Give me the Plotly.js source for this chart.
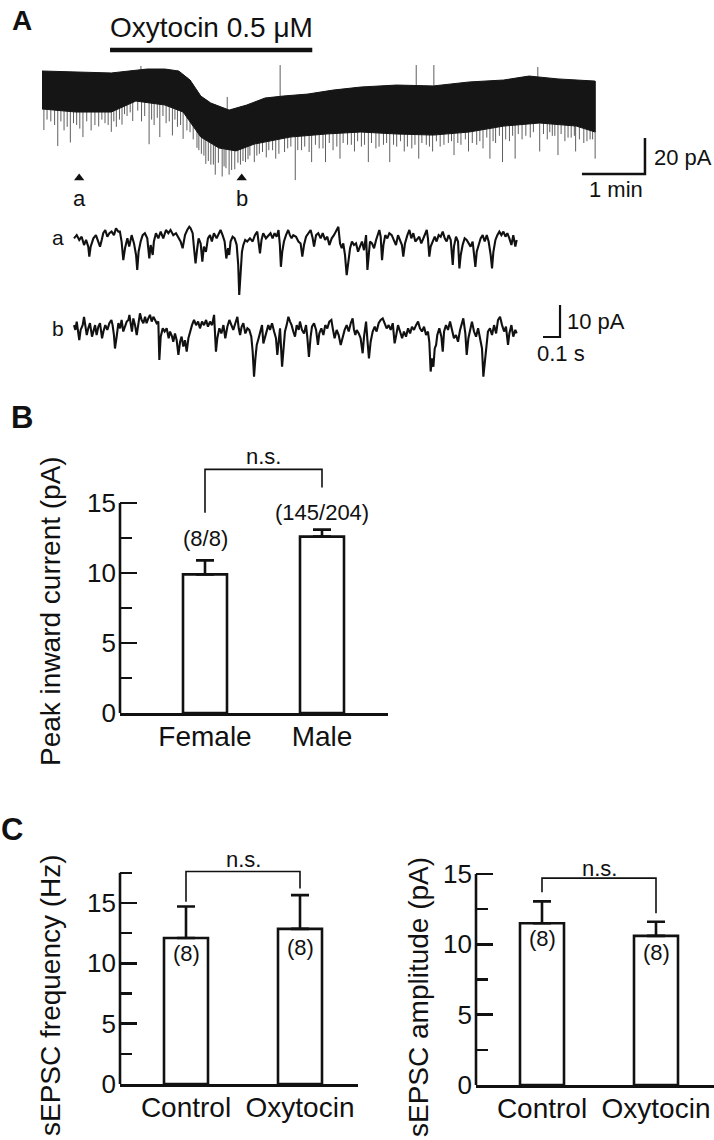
<!DOCTYPE html>
<html><head><meta charset="utf-8">
<script src="https://cdn.plot.ly/plotly-3.0.1.min.js"></script>
<style>html,body{margin:0;padding:0;background:#fff}#plot{width:714px;height:1140px}</style>
</head><body><div id="plot"></div>
<script>
// ===== Panel A: long recording (time in min, current in pA) =====
const envT   = [0,0.54,1.10,1.38,1.67,1.95,2.17,2.35,2.52,2.68,2.97,3.25,3.54,3.83,4.22,4.62,5.06,5.63,6.21,6.78,7.33,7.73,8.19,8.78];
const envTop = [0,-0.6,-1.1,0,1.1,1.1,0,-5.0,-13.9,-17.8,-21.7,-18.9,-15.0,-13.9,-12.8,-10.6,-8.9,-7.8,-8.3,-6.1,-5.0,-2.8,-4.4,-5.6];
const envBotT = [0,0.54,1.10,1.49,1.95,2.24,2.52,2.81,3.08,3.37,3.94,4.51,5.06,5.63,6.21,6.78,7.33,7.90,8.48,8.78];
const envBot  = [-21.1,-22.8,-22.8,-16.7,-18.9,-22.8,-36.7,-42.8,-44.4,-40.6,-36.7,-35.0,-33.9,-35.0,-35.6,-33.9,-30.6,-28.9,-30.6,-33.9];
const eventT    = [0.03,0.25,0.45,0.65,0.90,1.10,1.27,1.44,1.70,1.87,2.07,2.24,2.46,2.60,2.75,2.86,2.97,3.06,3.23,3.37,3.71,4.02,4.28,4.50,4.73,4.96,5.18,5.52,5.75,5.98,6.20,6.54,6.77,7.11,7.31,7.51,7.90,8.19,8.47,8.78];
const eventPeak = [-32.8,-41.7,-39.7,-36.7,-30.8,-33.8,-29.8,-27.8,-40.7,-36.7,-35.8,-37.7,-42.7,-51.6,-57.6,-58.6,-57.6,-54.6,-50.6,-50.6,-48.7,-60.6,-50.6,-50.6,-48.7,-44.7,-50.6,-50.6,-44.7,-48.7,-44.7,-46.7,-44.7,-48.7,-50.6,-48.7,-44.7,-46.7,-44.7,-48.7];
const minorT    = [0.14,0.35,0.55,0.78,1.00,1.18,1.35,1.58,1.78,1.97,2.15,2.35,2.53,2.68,2.92,3.15,3.30,3.45,3.60,3.85,3.95,4.12,4.40,4.62,4.85,5.07,5.30,5.42,5.63,5.87,6.10,6.32,6.45,6.65,6.90,7.00,7.20,7.42,7.62,7.75,8.02,8.10,8.30,8.40,8.60,8.70];
const minorPeak = [-28,-33,-30,-33,-29,-31,-25,-28,-30,-29,-31,-34,-46,-52,-54,-52,-47,-46,-44,-45,-42,-44,-43,-44,-41,-42,-43,-41,-42,-43,-41,-42,-40,-41,-41,-43,-40,-39,-38,-37,-38,-36,-39,-37,-40,-38];
const smallT    = [0.08,0.20,0.30,0.40,0.50,0.60,0.71,0.84,0.95,1.05,1.14,1.23,1.31,1.40,1.52,1.63,1.74,1.83,1.92,2.02,2.11,2.20,2.30,2.40,2.49,2.57,2.64,2.72,2.80,2.89,3.01,3.11,3.19,3.27,3.41,3.50,3.56,3.66,3.76,3.90,4.06,4.17,4.24,4.34,4.46,4.56,4.68,4.78,4.91,5.01,5.12,5.23,5.35,5.47,5.58,5.69,5.80,5.92,6.03,6.15,6.26,6.38,6.50,6.60,6.72,6.83,6.95,7.06,7.16,7.26,7.36,7.47,7.56,7.68,7.80,7.96,8.06,8.14,8.24,8.35,8.45,8.53,8.65,8.74];
const smallPeak = [-27,-30,-28,-31,-29,-32,-28,-30,-27,-30,-28,-27,-24,-23,-22,-25,-27,-26,-25,-28,-27,-30,-33,-38,-44,-47,-50,-52,-51,-53,-55,-51,-50,-49,-47,-45,-48,-44,-46,-43,-44,-42,-45,-41,-43,-40,-42,-40,-41,-39,-41,-40,-42,-40,-41,-39,-42,-41,-40,-42,-39,-41,-39,-40,-38,-40,-39,-37,-39,-36,-38,-36,-35,-36,-34,-35,-34,-36,-35,-37,-36,-38,-39,-38];
const upT    = [1.57,2.94,3.78,5.94,6.22,7.87];
const upPeak = [2.8,-14.4,3.3,3.3,3.3,2.2];
const drugOn = 1.08, drugOff = 4.29, drugLabel = 'Oxytocin 0.5 \u03bcM';
const markT = [0.59, 3.17];
const markLabels = ['a', 'b'];

// ===== Expanded traces a and b (time in ms, current in pA) =====
const aT = [0,16,31,45,59,71,84,90,98,114,129,143,153,163,172,184,196,208,221,235,247,261,270,280,290,300,314,325,339,353,365,372,380,392,404,417,431,443,451,463,470,482,496,510,525,541,555,568,584,600,613,627,639,653,666,678,686,698,706,715,725,733,745,755,764,776,788,800,811,823,839,851,862,874,886,896,906,913,921,933,945,957,966,972,980,988,996,1007,1019,1035,1051,1064,1078,1094,1103,1113,1129,1143,1156,1168,1180,1192,1203,1211,1217,1225,1235,1247,1260,1270,
1280,1290,1306,1320,1333,1343,1353,1365,1378,1392,1404,1412,1424,1437,1451,1463,1477,1490,1502,1516,1529,1545,1555,1565,1575,1584,1594,1604,1614,1624,1635,1647,1659,1671,1682,1694,1706,1718,1726,1733,1741,1753,1765,1777,1788,1796,1804,1812,1820,1831,1843,1855,1869,1882,1894,1906,1918,1929,1937,1947,1961,1973,1984,1996,2008,2020,2031,2043,2055,2067,2075,2082,2090,2098,2110,2122,2133,2145,2157,2169,2181,2192,2204,2216,2228,2235,2247,2259,2267,2275,2286,2298,2310,2322,2333,2345,2353,2361,2369,2381,2392,2404,2416,2428,2439,2451,2459,2467,2479,2490,2502,2514,2526,2538,2549,2561,2573,2584,2596,2604];
const aI = [-0.1,0.9,-0.6,0.4,-2.2,-0.6,-2.7,-5.8,-2.7,-0.1,0.9,-1.1,-2.7,-0.6,1.5,2.5,0.4,1.5,2.0,0.9,3.0,2.0,2.0,-1.1,-6.9,-3.2,-0.1,-2.7,0.9,-1.7,-5.3,-10.0,-4.3,-1.1,0.9,1.5,-0.1,-6.4,-2.2,-5.3,-1.1,1.5,-0.1,2.0,-0.1,2.5,1.5,2.5,0.9,1.5,0.4,-1.1,-3.2,0.9,2.5,3.5,3.0,1.5,-3.2,-7.9,-3.2,-0.1,-1.7,-7.4,-2.7,-4.3,-0.1,0.9,-1.1,1.5,-0.1,1.5,2.5,0.9,-1.1,-6.4,-3.2,-5.3,-1.1,0.4,-0.1,-2.2,-8.4,-17.8,-10.5,-4.3,-2.2,-0.6,-1.1,-0.1,-1.1,0.9,2.0,-4.8,-0.6,1.5,-0.1,0.9,1.5,-0.1,1.5,0.4,2.5,-2.2,-9.0,-4.3,-1.1,0.9,2.5,0.9,
-0.1,0.9,0.4,-1.1,-1.7,-5.8,-2.2,0.4,1.5,2.5,-0.1,-2.7,0.9,1.5,-0.1,1.5,-0.6,0.4,-2.2,-0.1,0.9,2.5,3.5,-1.7,-3.2,-1.7,-5.3,-11.6,-6.4,-3.2,-1.1,-2.2,-1.7,-4.3,-2.7,-1.1,-3.8,0.9,-10.0,-4.3,-1.1,-1.7,-3.2,-0.6,1.5,2.5,0.4,-6.9,-2.2,0.9,-0.1,1.5,0.9,-0.6,-2.2,0.9,-1.1,-2.2,-5.8,-1.7,0.9,2.5,-0.1,1.5,-1.1,-0.1,0.4,-1.7,-0.1,1.5,2.5,-0.1,-5.8,-2.7,-1.1,0.4,-1.1,0.9,0.4,2.0,-0.1,-1.1,0.9,-0.6,-8.4,-2.7,0.4,-1.1,-9.5,-5.3,-2.2,-0.1,-0.6,-1.7,-2.7,-1.1,-4.3,-9.0,-4.3,-1.7,-0.1,0.9,-1.1,0.9,-1.1,-5.3,-9.5,-4.3,-0.6,0.9,2.0,0.9,2.0,0.4,1.5,-0.1,-2.2,0.9,-2.7,-0.6];
const bT = [0,8,16,25,31,39,51,59,67,75,84,94,106,114,124,133,143,153,165,173,184,196,208,220,227,235,241,251,261,271,280,290,300,310,320,326,333,341,349,359,369,378,388,398,408,418,427,437,447,457,467,477,486,496,502,510,522,533,545,557,565,577,584,594,604,614,624,633,643,653,663,673,682,694,706,718,730,741,753,765,777,788,800,812,824,831,835,843,855,867,879,890,902,914,926,937,949,961,969,977,986,996,1008,1020,1031,1043,1051,1059,1067,1075,1086,1098,1106,1114,1124,1133,1143,1153,1165,1177,1188,1196,1204,1212,1224,1232,1241,1251,1261,1271,
1280,1290,1300,1310,1322,1329,1341,1353,1365,1373,1382,1392,1400,1412,1424,1435,1443,1455,1467,1478,1490,1502,1514,1522,1533,1545,1557,1569,1580,1592,1604,1616,1628,1639,1647,1655,1663,1675,1686,1698,1706,1718,1726,1735,1745,1757,1769,1780,1792,1804,1816,1828,1839,1851,1863,1875,1886,1894,1906,1918,1930,1941,1953,1965,1977,1988,2000,2012,2024,2035,2047,2059,2071,2082,2090,2098,2106,2114,2122,2130,2137,2149,2161,2169,2177,2188,2200,2212,2224,2235,2247,2259,2271,2282,2290,2302,2310,2320,2330,2341,2353,2365,2377,2388,2400,2408,2416,2424,2435,2447,2459,2471,2483,2494,2506,2518,2530,2541,2553,2561,2573,2584,2596,2604];
const bI = [0.9,-0.6,2.0,-1.1,-3.8,-0.6,0.9,3.5,0.4,-2.2,-0.1,1.5,-2.7,-0.6,0.9,-2.2,0.4,1.5,-3.2,-1.1,0.9,-0.6,1.5,2.5,0.9,-2.2,-6.4,-2.7,1.5,-0.1,2.5,-1.1,0.4,2.0,2.5,4.1,1.5,-1.1,3.0,0.9,-2.2,2.0,4.6,2.5,1.5,3.5,1.5,3.0,4.1,2.0,3.5,2.5,1.5,2.0,-10.0,-2.7,-0.1,-1.1,-0.1,-3.2,-1.1,-2.7,-4.3,-1.7,-3.8,-8.4,-4.3,-2.7,-5.8,-3.8,-7.4,-3.2,-1.1,0.9,2.5,0.9,2.0,-0.1,2.0,0.9,2.5,0.4,2.0,0.9,4.1,-2.2,-7.4,-3.2,-0.1,-1.7,0.9,-3.2,0.4,2.5,0.9,-0.6,1.5,3.5,-0.1,-2.2,0.4,1.5,-1.7,-0.1,-0.6,-2.7,-7.4,-15.2,-9.5,-5.3,-3.2,-0.1,0.9,-4.8,-2.7,-1.1,0.9,-0.6,1.5,-1.1,-3.2,-8.4,-3.2,-0.1,-12.1,-5.3,-1.1,0.9,3.5,2.0,
0.9,-1.1,-2.7,0.9,-0.6,2.0,-0.6,-1.7,0.9,-3.2,-9.0,-2.7,0.4,1.5,-0.6,-5.3,-1.7,-0.1,-2.2,0.9,-0.1,2.0,2.5,-0.1,-3.2,-0.6,-2.2,-5.3,-2.7,-0.6,0.9,-1.1,1.5,3.0,-0.6,-2.2,-0.6,-1.7,-3.2,-7.9,-2.7,2.0,-3.8,-9.5,-4.3,-1.1,0.4,-1.1,1.5,2.5,3.0,1.5,-0.1,0.9,-0.6,1.5,-4.8,-2.7,0.9,-1.1,-3.2,-1.1,-2.7,-0.1,-1.7,0.4,-0.6,0.9,2.0,-0.1,-1.1,0.4,-2.2,-1.1,-4.3,-13.6,-9.5,-12.1,-6.4,-5.3,-2.2,-0.1,-2.7,-7.4,-1.1,0.9,-0.6,2.0,-1.1,-3.2,-2.2,-4.3,-0.6,2.0,3.0,-1.7,-8.4,-3.2,-0.1,2.0,-1.1,-2.7,-0.1,-3.2,-6.4,-15.2,-10.5,-5.3,-1.1,-0.1,-2.2,0.9,-1.7,2.5,3.5,0.9,-1.1,0.4,-5.3,-1.7,0.9,-2.7,-0.6,-1.7];

// ===== Panel B =====
const sexCats  = ['Female', 'Male'];
const peakMean = [9.9, 12.6];
const peakSem  = [1.0, 0.5];
const peakN    = ['(8/8)', '(145/204)'];
const peakNy   = [12.5, 14.3];

// ===== Panel C =====
const condCats = ['Control', 'Oxytocin'];
const freqMean = [12.1, 12.85];
const freqSem  = [2.6, 2.8];
const ampMean  = [11.5, 10.6];
const ampSem   = [1.55, 1.0];
const cN       = ['(8)', '(8)'];

// ---------- helpers ----------
const W = 714, H = 1140;
const K = '#111';
const FONT = 'Liberation Sans, Arial, Helvetica, sans-serif';
function xAx(p0, p1, refPx, refVal, ppu, extra) {
  return Object.assign({domain: [p0 / W, p1 / W], range: [refVal + (p0 - refPx) / ppu, refVal + (p1 - refPx) / ppu],
    showgrid: false, zeroline: false, fixedrange: true}, extra || {});
}
function yAx(pTop, pBot, refPy, refVal, ppu, extra) {
  return Object.assign({domain: [1 - pBot / H, 1 - pTop / H], range: [refVal - (pBot - refPy) / ppu, refVal + (refPy - pTop) / ppu],
    showgrid: false, zeroline: false, fixedrange: true}, extra || {});
}
function interp(xs, ys, x) {
  if (x <= xs[0]) return ys[0];
  for (let i = 1; i < xs.length; i++) if (x <= xs[i]) {
    const f = (x - xs[i - 1]) / (xs[i] - xs[i - 1]); return ys[i - 1] + f * (ys[i] - ys[i - 1]);
  }
  return ys[ys.length - 1];
}
function spikes(ts, ps) {
  const x = [], y = [];
  ts.forEach((t, i) => { x.push(t, t, null); y.push(interp(envT, envTop, t), ps[i], null); });
  return {x, y};
}

const traces = [];
// Panel A spikes (under band)
const spS = spikes(smallT, smallPeak), sp2 = spikes(minorT, minorPeak), sp1 = spikes(eventT, eventPeak), sp3 = spikes(upT, upPeak);
[spS, sp2, sp1, sp3].forEach(s => traces.push({type: 'scatter', mode: 'lines', x: s.x, y: s.y, xaxis: 'x', yaxis: 'y',
  line: {color: '#5f5f5f', width: 1}, hoverinfo: 'skip'}));
// band
traces.push({type: 'scatter', mode: 'lines', xaxis: 'x', yaxis: 'y',
  x: envT.concat(envBotT.slice().reverse()), y: envTop.concat(envBot.slice().reverse()),
  fill: 'toself', fillcolor: '#151515', line: {color: '#151515', width: 1}, hoverinfo: 'skip'});
// drug bar
traces.push({type: 'scatter', mode: 'lines', xaxis: 'x', yaxis: 'y', x: [drugOn, drugOff], y: [11.7, 11.7],
  line: {color: K, width: 4.5}, hoverinfo: 'skip'});
// markers a, b
traces.push({type: 'scatter', mode: 'markers', xaxis: 'x', yaxis: 'y', x: markT, y: markT.map(() => -59.4),
  marker: {symbol: 'triangle-up', size: 9, color: K}, hoverinfo: 'skip'});
// scale bar 1 min / 20 pA
traces.push({type: 'scatter', mode: 'lines', xaxis: 'x', yaxis: 'y', x: [8.571, 9.571, 9.571], y: [-57.2, -57.2, -37.2],
  line: {color: K, width: 2.5}, hoverinfo: 'skip'});
// traces a & b
traces.push({type: 'scatter', mode: 'lines', xaxis: 'x2', yaxis: 'y2', x: aT, y: aI, line: {color: K, width: 2.1}, hoverinfo: 'skip'});
traces.push({type: 'scatter', mode: 'lines', xaxis: 'x2', yaxis: 'y3', x: bT, y: bI, line: {color: K, width: 2.1}, hoverinfo: 'skip'});
// scale bar 0.1 s / 10 pA
traces.push({type: 'scatter', mode: 'lines', xaxis: 'x2', yaxis: 'y3', x: [2759, 2859, 2859], y: [-2.81, -2.81, 7.19],
  line: {color: K, width: 2.2}, hoverinfo: 'skip'});

// Bar panels
function barPanel(xa, ya, means, sems, bw) {
  traces.push({type: 'bar', xaxis: xa, yaxis: ya, x: [0, 1], y: means, width: bw,
    marker: {color: '#fff', line: {color: K, width: 2.6}},
    error_y: {type: 'data', array: sems, arrayminus: sems.map(() => 0), symmetric: false, color: K, thickness: 2.6, width: 9},
    hoverinfo: 'skip'});
}
barPanel('x4', 'y4', peakMean, peakSem, 0.376);
barPanel('x5', 'y5', freqMean, freqSem, 0.386);
barPanel('x6', 'y6', ampMean, ampSem, 0.386);
// brackets
function bracket(xa, ya, yl, yt, yr) {
  traces.push({type: 'scatter', mode: 'lines', xaxis: xa, yaxis: ya, x: [0, 0, 1, 1], y: [yl, yt, yt, yr],
    line: {color: K, width: 1.6}, hoverinfo: 'skip'});
}
bracket('x4', 'y4', 14.3, 17.4, 16.1);
bracket('x5', 'y5', 15.1, 17.6, 16.2);
bracket('x6', 'y6', 13.7, 14.7, 12.2);

const hidden = {visible: false};
function yBar(extra, minorVals) {
  return Object.assign({showline: false, ticks: 'inside', ticklen: 17, tickwidth: 2.5, tickcolor: K,
    tickvals: [0, 5, 10, 15], ticktext: ['0', '5', '10', '15'], tickfont: {size: 26, color: K}, ticklabelstandoff: 3,
    minor: {tickmode: 'array', tickvals: minorVals, ticks: 'inside', ticklen: 12, tickwidth: 2.5, tickcolor: K}}, extra);
}
function xBar(cats, extra) {
  return Object.assign({showline: true, linewidth: 2.6, linecolor: K, ticks: '', tickvals: [0, 1], ticktext: cats,
    tickfont: {size: 28, color: K}, ticklabelstandoff: -3}, extra);
}

const layout = {
  width: W, height: H, margin: {l: 0, r: 0, t: 0, b: 0}, showlegend: false,
  paper_bgcolor: '#fff', plot_bgcolor: 'rgba(0,0,0,0)', font: {family: FONT, color: K},
  xaxis: xAx(0, W, 42, 0, 63, hidden),
  yaxis: yAx(0, 210, 71, 0, 1.8, Object.assign({anchor: 'x'}, hidden)),
  xaxis2: xAx(0, W, 74, 0, 0.17, Object.assign({anchor: 'y2'}, hidden)),
  yaxis2: yAx(215, 305, 238, 0, 3.2, Object.assign({anchor: 'x2'}, hidden)),
  yaxis3: yAx(300, 395, 328, 0, 3.2, Object.assign({anchor: 'x2'}, hidden)),
  xaxis4: xAx(120, 388, 205, 0, 117, xBar(sexCats, {anchor: 'y4'})),
  yaxis4: yAx(454, 713, 713, 0, 14, yBar({anchor: 'x4'}, [2.5, 7.5, 12.5])),
  xaxis5: xAx(120, 358, 186, 0, 114, xBar(condCats, {anchor: 'y5'})),
  yaxis5: yAx(845, 1084, 1084, 0, 12.07, yBar({anchor: 'x5'}, [2.5, 7.5, 12.5, 17.5])),
  xaxis6: xAx(476, 714, 542, 0, 114, xBar(condCats, {anchor: 'y6'})),
  yaxis6: yAx(853, 1085, 1085, 0, 14.07, yBar({anchor: 'x6'}, [2.5, 7.5, 12.5])),
  shapes: [
    {type: 'line', xref: 'x4 domain', yref: 'y4', x0: 0, x1: 0, y0: 0, y1: 15, line: {color: K, width: 2.6}},
    {type: 'line', xref: 'x5 domain', yref: 'y5', x0: 0, x1: 0, y0: 0, y1: 17.5, line: {color: K, width: 2.6}},
    {type: 'line', xref: 'x6 domain', yref: 'y6', x0: 0, x1: 0, y0: 0, y1: 15, line: {color: K, width: 2.6}}
  ],
  annotations: []
};
const A = layout.annotations;
function txt(o) { A.push(Object.assign({showarrow: false, xanchor: 'center', yanchor: 'middle', font: {size: 22, color: K}}, o)); }
// panel letters
txt({xref: 'paper', yref: 'paper', x: 22 / W, y: 1 - 20 / H, text: '<b>A</b>', font: {size: 28, color: K}});
txt({xref: 'paper', yref: 'paper', x: 22 / W, y: 1 - 417 / H, text: '<b>B</b>', font: {size: 31, color: K}});
txt({xref: 'paper', yref: 'paper', x: 12 / W, y: 1 - 829 / H, text: '<b>C</b>', font: {size: 31, color: K}});
// panel A texts
txt({xref: 'x', yref: 'y', x: (drugOn + drugOff) / 2, y: 24.4, text: drugLabel, font: {size: 28, color: K}});
markT.forEach((t, i) => txt({xref: 'x', yref: 'y', x: t, y: -70.6, text: markLabels[i], font: {size: 22, color: K}}));
txt({xref: 'x', yref: 'y', x: 9.68, y: -48.3, xanchor: 'left', text: '20 pA'});
txt({xref: 'x', yref: 'y', x: 9.11, y: -66.1, text: '1 min'});
txt({xref: 'x2', yref: 'y2', x: -94, y: 0.3, text: 'a', font: {size: 21, color: K}});
txt({xref: 'x2', yref: 'y3', x: -94, y: -0.3, text: 'b', font: {size: 21, color: K}});
txt({xref: 'x2', yref: 'y3', x: 2888, y: 1.9, xanchor: 'left', text: '10 pA'});
txt({xref: 'x2', yref: 'y3', x: 2865, y: -8.1, text: '0.1 s'});
// panel B texts
txt({xref: 'x4', yref: 'y4', x: 0.5, y: 18.3, text: 'n.s.'});
peakN.forEach((s, i) => txt({xref: 'x4', yref: 'y4', x: i, y: peakNy[i], text: s}));
txt({xref: 'paper', yref: 'paper', x: 50 / W, y: 1 - 611 / H, textangle: -90, text: 'Peak inward current (pA)', font: {size: 28, color: K}});
// panel C texts
txt({xref: 'x5', yref: 'y5', x: 0.5, y: 18.56, text: 'n.s.'});
txt({xref: 'x5', yref: 'y5', x: 0, y: 10.85, text: cN[0]});
txt({xref: 'x5', yref: 'y5', x: 1, y: 11.35, text: cN[1]});
txt({xref: 'paper', yref: 'paper', x: 50 / W, y: 1 - 995 / H, textangle: -90, text: 'sEPSC frequency (Hz)', font: {size: 28, color: K}});
txt({xref: 'x6', yref: 'y6', x: 0.5, y: 15.4, text: 'n.s.'});
txt({xref: 'x6', yref: 'y6', x: 0, y: 10.4, text: cN[0]});
txt({xref: 'x6', yref: 'y6', x: 1, y: 9.45, text: cN[1]});
txt({xref: 'paper', yref: 'paper', x: 418 / W, y: 1 - 997 / H, textangle: -90, text: 'sEPSC amplitude (pA)', font: {size: 28, color: K}});

Plotly.newPlot('plot', traces, layout, {staticPlot: true, displayModeBar: false});
</script></body></html>
